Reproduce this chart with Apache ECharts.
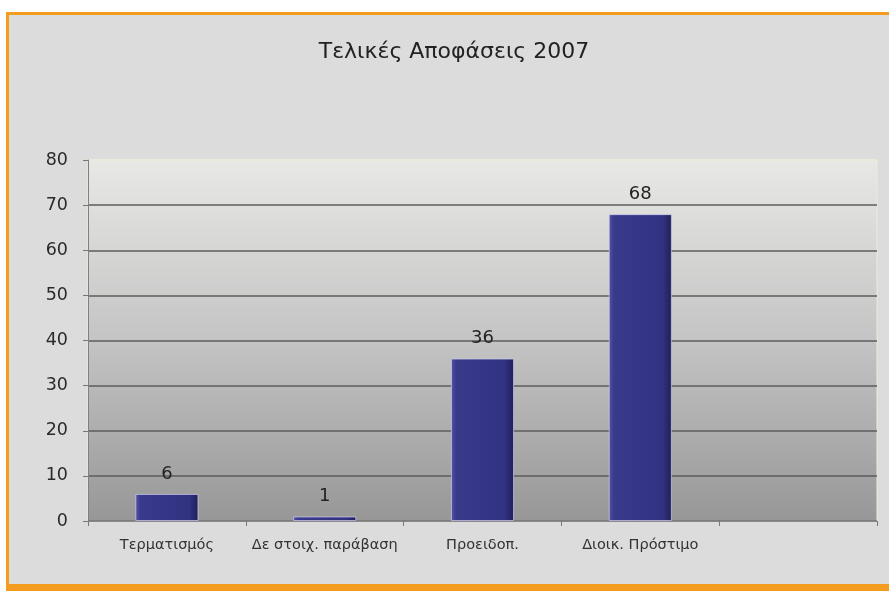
<!DOCTYPE html>
<html>
<head>
<meta charset="utf-8">
<script src="https://cdn.jsdelivr.net/npm/echarts@6/dist/echarts.min.js"></script>
<style>
html,body{margin:0;padding:0;background:#ffffff;width:889px;height:591px;overflow:hidden;}
#frame{position:absolute;left:6px;top:12px;width:900px;height:569px;background:#dcdcdc;border-top:3px solid #f39c1f;border-left:3px solid #f39c1f;border-bottom:10px solid #f39c1f;}
#chart{position:absolute;left:0;top:0;width:889px;height:591px;}
</style>
</head>
<body>
<div id="frame"></div>
<div id="chart"></div>
<script>
const titleText = 'Τελικές Αποφάσεις 2007';
const categories = ['Τερματισμός', 'Δε στοιχ. παράβαση', 'Προειδοπ.', 'Διοικ. Πρόστιμο', ''];
const values = [6, 1, 36, 68, '-'];
const yTicks = [0, 10, 20, 30, 40, 50, 60, 70, 80];

const chart = echarts.init(document.getElementById('chart'), null, {renderer: 'canvas'});
const font = 'DejaVu Sans, Verdana, sans-serif';
chart.setOption({
  backgroundColor: 'transparent',
  animation: false,
  graphic: [{
    type: 'text',
    x: 454, y: 52,
    style: {
      text: titleText, align: 'center', verticalAlign: 'middle',
      font: '22px ' + font, fill: '#222'
    }
  }],
  grid: {
    left: 88, right: 12, top: 160, bottom: 70,
    show: true,
    borderColor: '#ececdc', borderWidth: 1,
    backgroundColor: new echarts.graphic.LinearGradient(0, 0, 0, 1, [
      {offset: 0, color: '#e8e8e6'},
      {offset: 0.5, color: '#c4c4c4'},
      {offset: 1, color: '#979797'}
    ])
  },
  xAxis: {
    type: 'category',
    data: categories,
    axisLine: {show: true, lineStyle: {color: '#8a8a8a', width: 1}},
    axisTick: {show: true, alignWithLabel: false, length: 5, lineStyle: {color: '#777'}},
    axisLabel: {fontFamily: font, fontSize: 14.5, color: '#333', margin: 17, interval: 0}
  },
  yAxis: {
    type: 'value',
    min: yTicks[0], max: yTicks[yTicks.length - 1], interval: 10,
    axisLine: {show: true, lineStyle: {color: '#808080', width: 1}},
    axisTick: {show: true, length: 5, lineStyle: {color: '#777'}},
    axisLabel: {fontFamily: font, fontSize: 17.5, color: '#2a2a2a', margin: 20},
    splitLine: {show: true, lineStyle: {color: ['#666','#5c5c5c','#5c5c5c','#5c5c5c','#5c5c5c','#5c5c5c','#5c5c5c','#5c5c5c','#ececdc'], width: 1.5}}
  },
  series: [{
    type: 'bar',
    data: values,
    barWidth: '40%',
    itemStyle: {
      color: new echarts.graphic.LinearGradient(0, 0, 1, 0, [
        {offset: 0, color: '#5656a8'},
        {offset: 0.08, color: '#3a3a8c'},
        {offset: 0.85, color: '#323282'},
        {offset: 1, color: '#1f1f58'}
      ]),
      borderColor: 'rgba(205,205,240,0.7)',
      borderWidth: 1
    },
    label: {
      show: true, position: 'top', distance: 11,
      fontFamily: font, fontSize: 18, color: '#222'
    }
  }]
});
</script>
</body>
</html>
